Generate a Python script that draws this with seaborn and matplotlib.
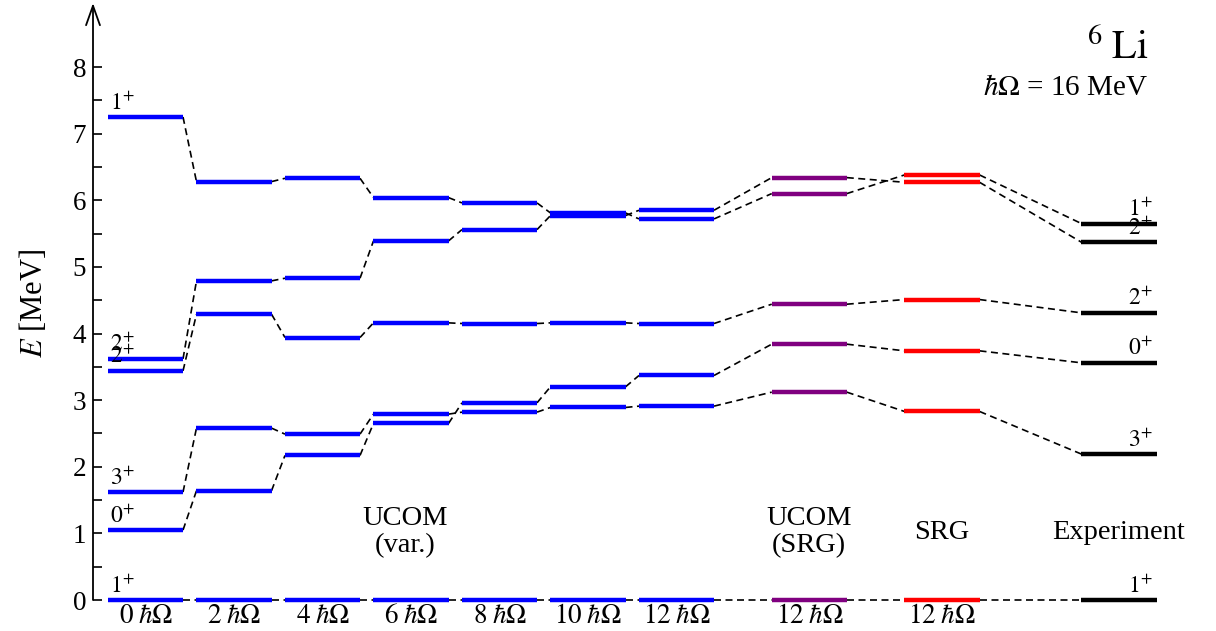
import numpy as np
import pandas as pd
import matplotlib
matplotlib.use("Agg")
import matplotlib.pyplot as plt
import seaborn as sns

# Level energies (MeV) per column, listed in the same state order so that
# entry i of one column is connected to entry i of the next column.
e_0hw = [0.00, 1.05, 1.62, 3.44, 3.62, 7.25]
e_2hw = [0.00, 1.64, 2.58, 4.29, 4.79, 6.28]
e_4hw = [0.00, 2.17, 2.49, 3.94, 4.83, 6.33]
e_6hw = [0.00, 2.65, 2.79, 4.16, 5.39, 6.04]
e_8hw = [0.00, 2.96, 2.82, 4.15, 5.56, 5.96]
e_10hw = [0.00, 3.20, 2.89, 4.16, 5.77, 5.81]
e_12hw = [0.00, 3.37, 2.91, 4.15, 5.85, 5.72]
e_ucom_srg = [0.00, 3.84, 3.12, 4.44, 6.34, 6.10]
e_srg = [0.00, 3.74, 2.83, 4.51, 6.27, 6.38]
e_exp = [0.00, 3.56, 2.19, 4.31, 5.37, 5.65]

spin_parity = [r"$1^{+}$", r"$0^{+}$", r"$3^{+}$", r"$2^{+}$", r"$2^{+}$", r"$1^{+}$"]

column_energies = [e_0hw, e_2hw, e_4hw, e_6hw, e_8hw, e_10hw, e_12hw,
                   e_ucom_srg, e_srg, e_exp]
column_method = ["UCOM (var.)"] * 7 + ["UCOM (SRG)", "SRG", "Experiment"]
column_pos = [0, 1, 2, 3, 4, 5, 6, 7.5, 9, 11]
x_tick_labels = [r"$0\;\hbar\Omega$", r"$2\;\hbar\Omega$", r"$4\;\hbar\Omega$",
                 r"$6\;\hbar\Omega$", r"$8\;\hbar\Omega$", r"$10\;\hbar\Omega$",
                 r"$12\;\hbar\Omega$", r"$12\;\hbar\Omega$", r"$12\;\hbar\Omega$", ""]

method_colors = {"UCOM (var.)": "#0000ff", "UCOM (SRG)": "#800080",
                 "SRG": "#ff0000", "Experiment": "#000000"}

half_width = 0.424

# Long-form tables: one two-point segment per level and per connector
bar_rows, link_rows = [], []
for ci, (pos, energies, meth) in enumerate(zip(column_pos, column_energies, column_method)):
    for ti, e in enumerate(energies):
        seg = f"bar{ci}_{ti}"
        bar_rows.append({"x": pos - half_width, "E": e, "method": meth, "seg": seg})
        bar_rows.append({"x": pos + half_width, "E": e, "method": meth, "seg": seg})
for ci in range(len(column_pos) - 1):
    for ti in range(len(spin_parity)):
        seg = f"link{ci}_{ti}"
        link_rows.append({"x": column_pos[ci] + half_width,
                          "E": column_energies[ci][ti], "seg": seg})
        link_rows.append({"x": column_pos[ci + 1] - half_width,
                          "E": column_energies[ci + 1][ti], "seg": seg})
bars = pd.DataFrame(bar_rows)
links = pd.DataFrame(link_rows)

sns.set_theme(style="white")
plt.rcParams["font.family"] = ["Liberation Serif", "DejaVu Serif"]
plt.rcParams["mathtext.fontset"] = "stix"
for key in ("text.color", "axes.labelcolor", "xtick.color", "ytick.color"):
    plt.rcParams[key] = "black"

fig = plt.figure(figsize=(12.16, 6.31), dpi=100)
ax = fig.add_axes([93 / 1216, 27 / 631, 1123 / 1216, 601.6 / 631])

sns.lineplot(data=links, x="x", y="E", units="seg", estimator=None, sort=False,
             color="black", lw=1.2, linestyle=(0, (4.2, 2.7)), legend=False, ax=ax)
sns.lineplot(data=bars, x="x", y="E", hue="method", palette=method_colors,
             units="seg", estimator=None, sort=False, lw=3.2,
             solid_capstyle="butt", legend=False, ax=ax)

ax.set_xlim(-0.5932, 12.096)
ax.set_ylim(-0.06, 8.97)

for s in ax.spines.values():
    s.set_visible(False)

# Energy axis with an arrow head
ax.annotate("", xy=(0, 8.96), xytext=(0, 0),
            xycoords=("axes fraction", "data"), textcoords=("axes fraction", "data"),
            arrowprops=dict(arrowstyle="->,head_length=1.4,head_width=0.5",
                            lw=1.3, color="black", shrinkA=0, shrinkB=0,
                            mutation_scale=10))

ax.set_yticks(np.arange(0, 9, 1))
ax.set_yticks(np.arange(0.5, 8, 1), minor=True)
ax.tick_params(axis="y", which="both", direction="in", length=6.5, width=1.2,
               color="black", left=True, labelsize=19.5, pad=5)
ax.tick_params(axis="x", length=0, labelsize=19.5, pad=0)
ax.set_xticks(column_pos)
ax.set_xticklabels(x_tick_labels)
ax.set_xlabel("")
ax.set_ylabel("")
ax.text((34 - 93) / 1123, 0.5, r"$E$ [MeV]", rotation=90, ha="center", va="center",
        fontsize=22, transform=ax.transAxes)

# Spin-parity labels
for e, jp in zip(e_0hw, spin_parity):
    ax.text(column_pos[0] - half_width + 0.02, e + 0.04, jp, fontsize=17,
            ha="left", va="bottom")
for e, jp in zip(e_exp, spin_parity):
    ax.text(column_pos[-1] + half_width - 0.04, e + 0.04, jp, fontsize=17,
            ha="right", va="bottom")

# Method captions
ax.text(2.93, 1.02, "UCOM\n(var.)", fontsize=20.5, ha="center", va="center",
        multialignment="center", linespacing=1.15)
ax.text(7.5, 1.02, "UCOM\n(SRG)", fontsize=20.5, ha="center", va="center",
        multialignment="center", linespacing=1.15)
ax.text(9, 1.02, "SRG", fontsize=20.5, ha="center", va="center")
ax.text(11, 1.02, "Experiment", fontsize=20.5, ha="center", va="center")

# Nucleus and oscillator frequency
ax.text(11.33, 8.12, r"${}^{6}\;\mathrm{Li}$", fontsize=29, ha="right", va="baseline")
ax.text(11.33, 7.58, r"$\hbar\Omega$ = 16 MeV", fontsize=21,
        ha="right", va="baseline")

fig.savefig("out.png", dpi=100)
